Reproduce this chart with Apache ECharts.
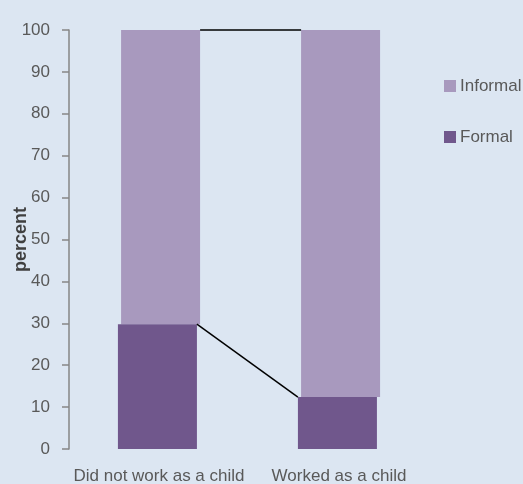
<!DOCTYPE html>
<html>
<head>
<meta charset="utf-8">
<script src="https://cdn.jsdelivr.net/npm/echarts@6/dist/echarts.min.js"></script>
<style>
html,body{margin:0;padding:0;background:#DCE6F2;}
#chart{width:523px;height:484px;}
</style>
</head>
<body>
<div id="chart"></div>
<script>
const categories = ['Did not work as a child', 'Worked as a child'];
const formal = [29.8, 12.4];
const informal = [70.2, 87.6];
const yTicks = { min: 0, max: 100, interval: 10 };
const axisTitle = 'percent';

const FONT = "'Liberation Sans', Arial, sans-serif";
const TEXT = '#595959';
const C_INF = '#A899BE';
const C_FOR = '#70578C';

const chart = echarts.init(document.getElementById('chart'), null, { renderer: 'canvas' });

chart.setOption({
  backgroundColor: '#DCE6F2',
  animation: false,
  grid: { left: 69, right: 94, top: 30, bottom: 35, containLabel: false, outerBoundsMode: 'none' },
  legend: {
    orient: 'vertical',
    left: 439,
    top: 71,
    itemWidth: 12,
    itemHeight: 12,
    itemGap: 31,
    icon: 'rect',
    data: ['Informal', 'Formal'],
    textStyle: { color: TEXT, fontFamily: FONT, fontSize: 17, lineHeight: 20, padding: [0, 0, 0, -1] }
  },
  xAxis: {
    type: 'category',
    data: categories,
    axisLine: { show: false },
    axisTick: { show: false },
    axisLabel: { color: TEXT, fontFamily: FONT, fontSize: 17, margin: 19, interval: 0 }
  },
  yAxis: {
    type: 'value',
    min: yTicks.min, max: yTicks.max, interval: yTicks.interval,
    name: axisTitle,
    nameLocation: 'middle',
    nameGap: 39,
    nameMoveOverlap: false,
    nameRotate: 90,
    nameTextStyle: { color: '#404040', fontFamily: FONT, fontWeight: 'bold', fontSize: 18 },
    axisLine: { show: true, lineStyle: { color: '#868686', width: 1.5 } },
    axisTick: { show: true, inside: false, length: 7, lineStyle: { color: '#868686', width: 1.5 } },
    splitLine: { show: false },
    axisLabel: { color: TEXT, fontFamily: FONT, fontSize: 17, margin: 19 }
  },
  series: [
    {
      name: 'Formal', type: 'bar', stack: 'f', barWidth: 79, barGap: '-96%',
      itemStyle: { color: C_FOR }, data: formal, z: 3
    },
    {
      name: '_base', type: 'bar', stack: 'i', barWidth: 79,
      itemStyle: { color: 'rgba(0,0,0,0)' }, data: formal, silent: true, z: 2
    },
    {
      name: 'Informal', type: 'bar', stack: 'i', barWidth: 79,
      itemStyle: { color: C_INF }, data: informal, z: 2
    },
    {
      name: '_lines', type: 'custom', silent: true, z: 5,
      data: [[0, 0]],
      renderItem: function (params, api) {
        const a = api.coord([0, formal[0]]);
        const b = api.coord([1, formal[1]]);
        const c = api.coord([0, formal[0] + informal[0]]);
        const d = api.coord([1, formal[1] + informal[1]]);
        const st = { stroke: '#000', lineWidth: 1.5 };
        return {
          type: 'group',
          children: [
            { type: 'line', shape: { x1: a[0] + 37.9, y1: a[1], x2: b[0] - 41.1, y2: b[1] }, style: st },
            { type: 'line', shape: { x1: c[0] + 41.1, y1: c[1], x2: d[0] - 37.9, y2: d[1] }, style: st }
          ]
        };
      }
    }
  ]
});
</script>
</body>
</html>
